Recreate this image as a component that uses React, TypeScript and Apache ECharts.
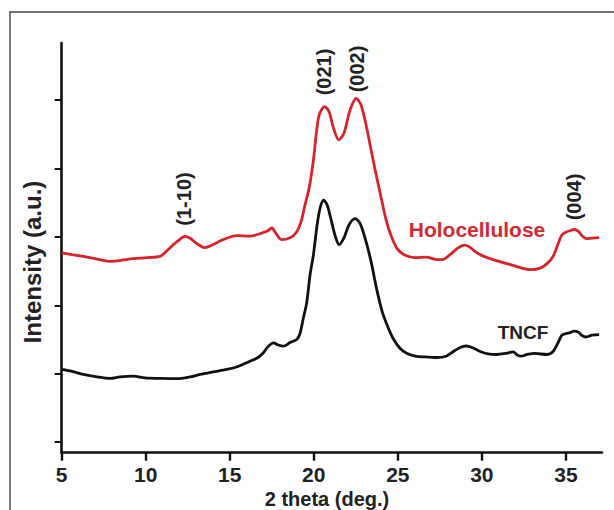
import React, { useEffect, useRef } from "react";
import * as echarts from "echarts";

// ---- Data ----
const xTicks = [5, 10, 15, 20, 25, 30, 35];
const yTicks = [0, 1, 2, 3, 4, 5];

const holoTheta = [
  5.0, 5.61, 6.27, 7.1, 7.98, 8.59, 9.24, 10.08, 10.85, 11.15, 11.45, 11.93, 12.34, 12.64, 13.05, 13.53,
  13.95, 14.6, 15.42, 16.21, 16.98, 17.27, 17.5, 17.76, 18.1, 18.59, 18.95, 19.24, 19.48, 19.74, 19.98,
  20.14, 20.32, 20.64, 20.91, 21.15, 21.49, 21.8, 22.16, 22.52, 22.81, 23.11, 23.41, 23.71, 24.01, 24.3,
  24.6, 24.96, 25.38, 26.03, 26.69, 27.16, 27.64, 28.11, 28.53, 28.95, 29.24, 29.6, 30.02, 30.67, 31.5,
  32.28, 32.93, 33.47, 33.88, 34.24, 34.54, 34.77, 35.01, 35.25, 35.49, 35.73, 35.96, 36.2, 36.56, 36.98,
];
const holoIntensity = [
  2.765, 2.74, 2.715, 2.675, 2.642, 2.66, 2.682, 2.696, 2.715, 2.77, 2.842, 2.945, 3.007, 2.98, 2.9, 2.842,
  2.88, 2.959, 3.017, 3.01, 3.061, 3.09, 3.13, 3.047, 2.959, 2.988, 3.061, 3.22, 3.47, 3.737, 4.127,
  4.49, 4.784, 4.905, 4.83, 4.61, 4.419, 4.52, 4.856, 5.025, 4.93, 4.64, 4.27, 3.91, 3.572, 3.25,
  3.017, 2.828, 2.74, 2.696, 2.704, 2.675, 2.667, 2.74, 2.828, 2.88, 2.857, 2.784, 2.726, 2.667, 2.609,
  2.55, 2.521, 2.543, 2.609, 2.715, 2.9, 3.032, 3.069, 3.09, 3.108, 3.083, 3.017, 2.974, 2.981, 2.988,
];

const tncfTheta = [
  5.0, 5.61, 6.29, 7.1, 7.88, 8.47, 9.26, 9.96, 10.85, 11.85, 12.64, 13.23, 14.01, 14.82, 15.49, 16.21,
  16.68, 17.0, 17.28, 17.6, 17.88, 18.19, 18.59, 18.99, 19.18, 19.36, 19.58, 19.78, 19.98, 20.2, 20.38,
  20.58, 20.79, 21.03, 21.27, 21.51, 21.8, 22.1, 22.46, 22.76, 23.11, 23.41, 23.75, 24.07, 24.4, 24.72,
  25.14, 25.55, 26.03, 26.62, 27.28, 27.88, 28.31, 28.71, 29.07, 29.42, 29.9, 30.37, 30.89, 31.39, 31.86,
  32.1, 32.34, 32.7, 33.17, 33.87, 34.24, 34.54, 34.77, 35.01, 35.25, 35.49, 35.73, 35.96, 36.2, 36.56, 36.98,
];
const tncfIntensity = [
  1.061, 1.032, 0.988, 0.952, 0.93, 0.952, 0.964, 0.937, 0.93, 0.926, 0.952, 0.988, 1.025, 1.061, 1.105, 1.182,
  1.236, 1.305, 1.397, 1.451, 1.419, 1.401, 1.455, 1.499, 1.587, 1.791, 2.039, 2.448, 2.74, 3.178, 3.426,
  3.536, 3.47, 3.251, 3.017, 2.886, 2.988, 3.178, 3.266, 3.193, 2.93, 2.638, 2.229, 1.908, 1.689, 1.514,
  1.368, 1.295, 1.258, 1.244, 1.236, 1.255, 1.324, 1.383, 1.404, 1.383, 1.324, 1.288, 1.28, 1.295, 1.317,
  1.273, 1.255, 1.28, 1.295, 1.28, 1.324, 1.455, 1.565, 1.587, 1.601, 1.623, 1.609, 1.558, 1.536, 1.565, 1.572,
];

const peakLabels = ["(1-10)", "(021)", "(002)", "(004)"];

const zip = (xs: number[], ys: number[]) => xs.map((x, i) => [x, ys[i]]);

const FONT = "'Liberation Sans', Arial, Helvetica, sans-serif";
const RED = "#d8232a";

export default function App() {
  const ref = useRef<HTMLDivElement>(null);

  useEffect(() => {
    if (!ref.current) return;
    const chart = echarts.init(ref.current, undefined, { renderer: "svg" });

    const peakPos = [
      [184, 199],
      [324, 72],
      [357, 69],
      [574, 197],
    ];

    chart.setOption({
      animation: false,
      backgroundColor: "#ffffff",
      grid: {
        left: 61.7,
        right: 12,
        top: 43,
        bottom: 57.3,
        containLabel: false,
        outerBoundsMode: "none",
      },
      xAxis: {
        type: "value",
        min: 5,
        max: 37.15,
        interval: 5,
        axisLine: { show: true, onZero: false, lineStyle: { color: "#111", width: 2.6 } },
        axisTick: {
          show: true,
          inside: false,
          length: 8,
          customValues: xTicks,
          lineStyle: { color: "#111", width: 2.4 },
        },
        axisLabel: {
          show: true,
          customValues: xTicks,
          margin: 11,
          fontFamily: FONT,
          fontWeight: "bold",
          fontSize: 21,
          lineHeight: 21,
          color: "#222",
        },
        splitLine: { show: false },
      },
      yAxis: {
        type: "value",
        min: -0.156,
        max: 5.835,
        axisLine: { show: true, onZero: false, lineStyle: { color: "#111", width: 2.6 } },
        axisTick: {
          show: true,
          inside: false,
          length: 7,
          customValues: yTicks,
          lineStyle: { color: "#111", width: 2 },
        },
        axisLabel: { show: false },
        splitLine: { show: false },
      },
      series: [
        {
          name: "Holocellulose",
          type: "line",
          data: zip(holoTheta, holoIntensity),
          showSymbol: false,
          smooth: 0.3,
          lineStyle: { color: RED, width: 2.8 },
          z: 3,
        },
        {
          name: "TNCF",
          type: "line",
          data: zip(tncfTheta, tncfIntensity),
          showSymbol: false,
          smooth: 0.3,
          lineStyle: { color: "#111", width: 2.8 },
          z: 3,
        },
      ],
      graphic: [
        {
          type: "rect",
          shape: { x: 10, y: 12, width: 640, height: 560 },
          style: { fill: "none", stroke: "#444", lineWidth: 1.4 },
          silent: true,
          z: 0,
        },
        {
          type: "text",
          x: 32,
          y: 262,
          rotation: Math.PI / 2,
          style: {
            text: "Intensity (a.u.)",
            fontFamily: FONT,
            fontSize: 24,
            fontWeight: "bold",
            fill: "#222",
            align: "center",
            verticalAlign: "middle",
          },
        },
        {
          type: "text",
          x: 327,
          y: 499,
          style: {
            text: "2 theta (deg.)",
            fontFamily: FONT,
            fontSize: 20,
            lineHeight: 20,
            fontWeight: "bold",
            fill: "#222",
            align: "center",
            verticalAlign: "middle",
          },
        },
        {
          type: "text",
          x: 477,
          y: 229,
          style: {
            text: "Holocellulose",
            fontFamily: FONT,
            fontSize: 21,
            fontWeight: "bold",
            fill: "#cf2a32",
            align: "center",
            verticalAlign: "middle",
          },
        },
        {
          type: "text",
          x: 523,
          y: 332.5,
          style: {
            text: "TNCF",
            fontFamily: FONT,
            fontSize: 19,
            fontWeight: "bold",
            fill: "#222",
            align: "center",
            verticalAlign: "middle",
          },
        },
        ...peakLabels.map((t, i) => ({
          type: "text",
          x: peakPos[i][0],
          y: peakPos[i][1],
          rotation: Math.PI / 2,
          style: {
            text: t,
            fontFamily: FONT,
            fontSize: 20,
            fontWeight: "bold",
            fill: "#222",
            align: "center",
            verticalAlign: "middle",
          },
        })),
      ],
    });

    return () => chart.dispose();
  }, []);

  return (
    <div
      ref={ref}
      style={{ position: "fixed", left: 0, top: 0, width: 614, height: 510, background: "#fff" }}
    />
  );
}
